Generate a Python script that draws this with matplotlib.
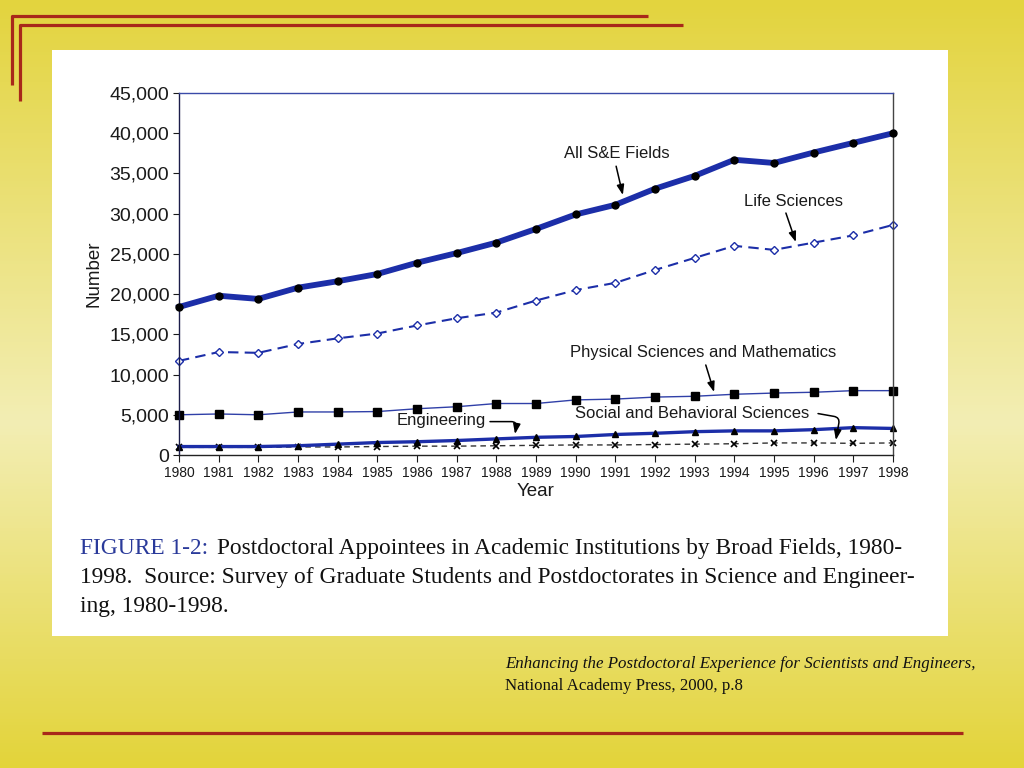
import matplotlib
matplotlib.use("Agg")
import matplotlib.pyplot as plt
import numpy as np
from matplotlib.lines import Line2D
from matplotlib.patches import Rectangle
from matplotlib.colors import LinearSegmentedColormap
from matplotlib.ticker import FuncFormatter

# values
years = list(range(1980, 1999))
all_se = [18400, 19800, 19400, 20800, 21600, 22500, 23900, 25100, 26400, 28100,
          29900, 31100, 33100, 34700, 36700, 36300, 37600, 38800, 40000]
life_sci = [11700, 12800, 12700, 13800, 14500, 15100, 16100, 17000, 17700, 19200,
            20500, 21400, 23000, 24500, 26000, 25500, 26400, 27300, 28600]
phys_math = [5000, 5100, 5000, 5350, 5350, 5400, 5750, 6000, 6400, 6400,
             6850, 6950, 7200, 7300, 7550, 7700, 7800, 8000, 8000]
engineering = [1050, 1050, 1050, 1150, 1350, 1550, 1650, 1800, 2000, 2200,
               2300, 2550, 2700, 2900, 3000, 3000, 3150, 3400, 3300]
social = [950, 950, 950, 1000, 1000, 1050, 1100, 1100, 1150, 1200,
          1250, 1250, 1300, 1350, 1400, 1500, 1500, 1450, 1500]
y_ticks = [0, 5000, 10000, 15000, 20000, 25000, 30000, 35000, 40000, 45000]

W, H = 1024, 768
fig = plt.figure(figsize=(W / 100, H / 100), dpi=100)


def fx(px):
    return px / W


def fy(py):
    return 1 - py / H


# slide background: vertical yellow gradient
bg = fig.add_axes([0, 0, 1, 1])
bg.set_axis_off()
bg.set_zorder(-3)
cmap = LinearSegmentedColormap.from_list(
    "slide", [(0, "#e3d43e"), (0.55, "#f3eeb4"), (1, "#e3d43a")])
bg.imshow(np.linspace(0, 1, 256).reshape(-1, 1), aspect="auto", cmap=cmap,
          extent=[0, 1, 0, 1])
bg.set_xlim(0, 1)
bg.set_ylim(0, 1)

red = "#a8281a"
for xs, ys in [([12, 12, 648], [85, 16, 16]),
               ([20, 20, 683], [101, 25, 25]),
               ([42, 963], [733, 733])]:
    fig.add_artist(Line2D([fx(v) for v in xs], [fy(v) for v in ys],
                          color=red, lw=2.3, solid_capstyle="butt"))

# white inset holding the scanned figure
fig.add_artist(Rectangle((fx(52), fy(636)), fx(948) - fx(52), fy(50) - fy(636),
                         facecolor="white", edgecolor="none", zorder=-2))

sans = ["Liberation Sans", "DejaVu Sans"]
serif = ["Liberation Serif", "DejaVu Serif"]

ax = fig.add_axes([fx(179), fy(455), fx(893) - fx(179), fy(93) - fy(455)])
ax.set_facecolor("none")
ax.set_zorder(1)

blue = "#1c2ea8"
ax.plot(years, social, ls=(0, (4, 3)), color="#333333", lw=1.0,
        marker="x", ms=4.5, mec="black", mew=1.2, clip_on=False)
ax.plot(years, engineering, color=blue, lw=2.4,
        marker="^", ms=5, mfc="black", mec="black", clip_on=False)
ax.plot(years, phys_math, color="#3040a8", lw=1.0,
        marker="s", ms=5.5, mfc="black", mec="black", clip_on=False)
ax.plot(years, life_sci, ls=(0, (5, 3)), color=blue, lw=1.5,
        marker="D", ms=3.6, mfc="white", mec=blue, mew=1.0, clip_on=False)
ax.plot(years, all_se, color=blue, lw=4.2,
        marker="o", ms=5, mfc="black", mec="black", zorder=5, clip_on=False)

ax.set_xlim(1980, 1998)
ax.set_ylim(0, 45000)
ax.set_xticks(years)
ax.set_yticks(y_ticks)
ax.yaxis.set_major_formatter(FuncFormatter(lambda v, p: f"{int(v):,}"))
ax.tick_params(axis="y", direction="out", length=4, width=0.8, pad=3,
               labelsize=14, colors="#1a1a1a")
ax.tick_params(axis="x", direction="out", length=5, width=0.8, pad=3,
               labelsize=10, colors="#1a1a1a")
for lab in ax.get_yticklabels() + ax.get_xticklabels():
    lab.set_family(sans)

ax.spines["left"].set_color("#1b1d4a")
ax.spines["bottom"].set_color("#222222")
ax.spines["top"].set_color("#3a4aa8")
ax.spines["right"].set_color("#444444")
for s in ax.spines.values():
    s.set_linewidth(1.0)

ax.set_ylabel("Number", fontsize=13.5, family=sans, color="#1a1a1a", labelpad=5)
ax.set_xlabel("Year", fontsize=13.5, family=sans, color="#1a1a1a", labelpad=2)

arrow = dict(arrowstyle="-|>,head_length=0.6,head_width=0.22", color="black",
             lw=1.1, shrinkA=0, shrinkB=0)
lab_kw = dict(fontsize=12, family=sans, color="#1a1a1a", ha="center", va="center")

ax.text(1991.04, 37540, "All S&E Fields", **lab_kw)
ax.annotate("", xy=(1991.19, 32320), xytext=(1991.02, 35900), arrowprops=arrow)

ax.text(1995.48, 31570, "Life Sciences", **lab_kw)
ax.annotate("", xy=(1995.55, 26480), xytext=(1995.30, 30080), arrowprops=arrow)

ax.text(1993.21, 12680, "Physical Sciences and Mathematics", **lab_kw)
ax.annotate("", xy=(1993.49, 7830), xytext=(1993.28, 11190), arrowprops=arrow)

ax.text(1986.60, 4350, "Engineering", **lab_kw)
ax.annotate("", xy=(1988.47, 2610), xytext=(1987.84, 4150),
            arrowprops=dict(arrow, connectionstyle="angle,angleA=0,angleB=80,rad=6"))

ax.text(1992.93, 5220, "Social and Behavioral Sciences", **lab_kw)
ax.annotate("", xy=(1996.56, 1860), xytext=(1996.11, 5150),
            arrowprops=dict(arrow, connectionstyle="angle,angleA=-10,angleB=80,rad=6"))

# caption under the chart
cap_size = 16.8
cap_kw = dict(fontsize=cap_size, family=serif, ha="left", va="baseline")
head = fig.text(fx(80), fy(554), "FIGURE 1-2:", color="#2a3a9a", **cap_kw)
renderer = fig.canvas.get_renderer()
head_end = head.get_window_extent(renderer).x1
fig.text(fx(head_end + 9), fy(554),
         "Postdoctoral Appointees in Academic Institutions by Broad Fields, 1980-",
         color="#111111", **cap_kw)
fig.text(fx(80), fy(583),
         "1998.  Source: Survey of Graduate Students and Postdoctorates in Science and Engineer-",
         color="#111111", **cap_kw)
fig.text(fx(80), fy(612), "ing, 1980-1998.", color="#111111", **cap_kw)

fig.text(fx(505), fy(668),
         "Enhancing the Postdoctoral Experience for Scientists and Engineers,",
         fontsize=12.2, family=serif, style="italic", color="#111111")
fig.text(fx(505), fy(690), "National Academy Press, 2000, p.8",
         fontsize=12.2, family=serif, color="#111111")

fig.savefig("out.png", dpi=100)
